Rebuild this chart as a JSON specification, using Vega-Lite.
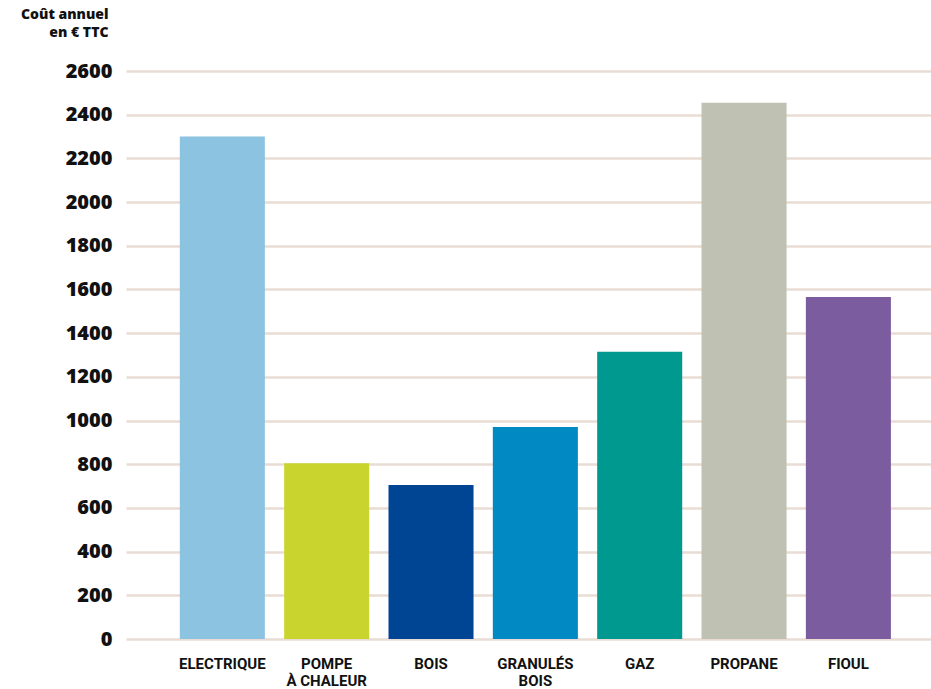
{
  "$schema": "https://vega.github.io/schema/vega-lite/v6.json",
  "autosize": {"type": "none"},
  "padding": {"left": 126, "top": 71, "right": 0, "bottom": 50},
  "width": 805,
  "height": 568,
  "background": "white",
  "data": {"values": [
    {"energie": "ELECTRIQUE", "cout": 2300},
    {"energie": "POMPE|À CHALEUR", "cout": 805},
    {"energie": "BOIS", "cout": 705},
    {"energie": "GRANULÉS|BOIS", "cout": 970},
    {"energie": "GAZ", "cout": 1315},
    {"energie": "PROPANE", "cout": 2455},
    {"energie": "FIOUL", "cout": 1565}
  ]},
  "config": {"view": {"stroke": null}},
  "mark": {"type": "bar"},
  "encoding": {
    "x": {
      "field": "energie", "type": "nominal", "sort": null,
      "scale": {"paddingInner": 0.185, "paddingOuter": 0.45, "align": 0.573},
      "axis": {
        "title": null, "labelAngle": 0, "ticks": false, "domain": false,
        "labelExpr": "split(datum.label, '|')",
        "labelFont": "Roboto", "labelFontWeight": "bold", "labelFontSize": 15,
        "labelColor": "#111111", "labelPadding": 24, "labelLineHeight": 17,
        "labelBaseline": "middle"
      }
    },
    "y": {
      "field": "cout", "type": "quantitative",
      "scale": {"domain": [0, 2600], "nice": false},
      "axis": {
        "values": [0,200,400,600,800,1000,1200,1400,1600,1800,2000,2200,2400,2600],
        "format": "d",
        "title": ["Coût annuel", "en € TTC"],
        "titleAngle": 0, "titleAlign": "right", "titleBaseline": "top",
        "titleX": -18, "titleY": -64, "titleFont": "Open Sans", "titleFontWeight": 800,
        "titleFontSize": 14, "titleColor": "#111111", "titleLineHeight": 18,
        "ticks": false, "domain": false, "labelPadding": 14,
        "labelFont": "Open Sans", "labelFontWeight": 800, "labelFontSize": 20,
        "labelColor": "#111111",
        "grid": true, "gridColor": "#eadcd4", "gridWidth": 2.5
      }
    },
    "color": {
      "field": "energie", "type": "nominal", "legend": null,
      "scale": {
        "domain": ["ELECTRIQUE", "POMPE|À CHALEUR", "BOIS", "GRANULÉS|BOIS", "GAZ", "PROPANE", "FIOUL"],
        "range": ["#8cc3e0", "#c9d52e", "#004494", "#0089c3", "#00998f", "#bfc1b3", "#7b5c9f"]
      }
    }
  }
}
